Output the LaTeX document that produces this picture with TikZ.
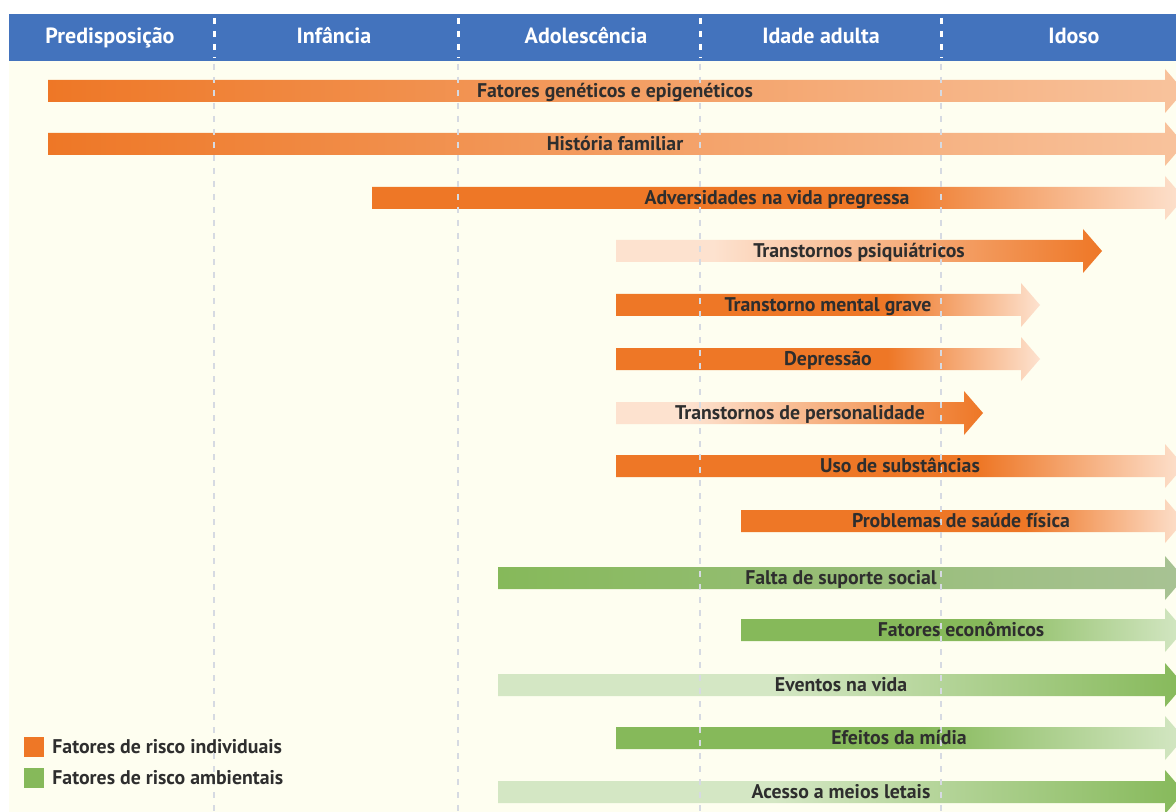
\documentclass[tikz,border=0pt]{standalone}
\usepackage{fontspec}
\setmainfont{PT Sans}
\definecolor{headblue}{HTML}{4373BD}
\definecolor{cream}{HTML}{FEFEF0}
\definecolor{gridgray}{HTML}{D6DAE2}
\definecolor{labelgray}{HTML}{2E2E2E}
\definecolor{oDark}{HTML}{EE7726}
\definecolor{oLight}{HTML}{F8C39D}
\definecolor{oPale}{HTML}{FDE2CF}
\definecolor{gDark}{HTML}{86B95A}
\definecolor{gLight}{HTML}{D4E7C4}
\definecolor{gGrey}{HTML}{A8C294}

\pgfdeclarehorizontalshading{holdorangeshade}{100bp}{color(0bp)=(oDark); color(25bp)=(oDark); color(57bp)=(oDark); color(75bp)=(oPale); color(100bp)=(oPale)}
\pgfdeclarehorizontalshading{holdgreenshade}{100bp}{color(0bp)=(gDark); color(25bp)=(gDark); color(52bp)=(gDark); color(75bp)=(gLight); color(100bp)=(gLight)}
\pgfdeclarehorizontalshading{risegreenshade}{100bp}{color(0bp)=(gLight); color(25bp)=(gLight); color(45bp)=(gLight); color(75bp)=(gDark); color(100bp)=(gDark)}
\pgfdeclarehorizontalshading{riseorangeshade}{100bp}{color(0bp)=(oPale); color(25bp)=(oPale); color(35bp)=(oPale); color(75bp)=(oDark); color(100bp)=(oDark)}

\tikzset{
  barlabel/.style={font=\bfseries\fontsize{9.9}{11}\selectfont, text=labelgray, inner sep=0pt, text height=1.6ex, text depth=0.3ex},
  stagelabel/.style={font=\bfseries\fontsize{11}{13}\selectfont, text=white, inner sep=0pt, text height=1.6ex, text depth=0.3ex},
  legendbox/.style={minimum size=10pt, inner sep=0pt, draw=none},
  legendtext/.style={font=\bfseries\fontsize{9.9}{11}\selectfont, text=labelgray, inner sep=0pt, anchor=west, text height=1.6ex, text depth=0.3ex},
  headdash/.style={white, line width=1.5pt, dash pattern=on 3pt off 3.5pt},
  griddash/.style={gridgray, line width=1pt, dash pattern=on 3pt off 3.5pt},
  fadeorange/.style={left color=oDark, right color=oLight},
  holdorange/.style={shading=holdorangeshade},
  riseorange/.style={shading=riseorangeshade},
  greygreen/.style={left color=gDark, right color=gGrey},
  holdgreen/.style={shading=holdgreenshade},
  risegreen/.style={shading=risegreenshade}
}

% #1 style, #2 y, #3 x start, #4 x tip
\newcommand{\riskbar}[4]{%
  \shade[#1] (#3,#2-11) -- (#4-19,#2-11) -- (#4-19,#2-22) -- (#4,#2)
    -- (#4-19,#2+22) -- (#4-19,#2+11) -- (#3,#2+11) -- cycle;}

\begin{document}
\begin{tikzpicture}[x=0.5pt, y=-0.5pt]
\clip (0,0) rectangle (1176,812);
\fill[white] (0,0) rectangle (1176,812);
\fill[cream] (9,61) rectangle (1176,812);
\fill[headblue] (9,14) rectangle (1176,61);

% stages
\node[stagelabel] (predisp) at (110,37) {Predisposição};
\node[stagelabel] (infancia) at (334,37) {Infância};
\node[stagelabel] (adolesc) at (586,37) {Adolescência};
\node[stagelabel] (adulta) at (821,37) {Idade adulta};
\node[stagelabel] (idoso) at (1074,37) {Idoso};

% individual factors
\riskbar{fadeorange}{91}{48}{1184}
\riskbar{fadeorange}{144}{48}{1184}
\riskbar{holdorange}{198}{372}{1184}
\riskbar{riseorange}{251}{616}{1102}
\riskbar{holdorange}{305}{616}{1040}
\riskbar{holdorange}{359}{616}{1040}
\riskbar{riseorange}{413}{616}{983}
\riskbar{holdorange}{466}{616}{1184}
\riskbar{holdorange}{521}{741}{1184}

% environmental factors
\riskbar{greygreen}{578}{498}{1184}
\riskbar{holdgreen}{630}{741}{1184}
\riskbar{risegreen}{685}{498}{1184}
\riskbar{holdgreen}{738}{616}{1184}
\riskbar{risegreen}{792}{498}{1184}

% separators
\draw[headdash] (214,18) -- (214,58);
\draw[headdash] (458,18) -- (458,58);
\draw[headdash] (700,18) -- (700,58);
\draw[headdash] (941,18) -- (941,58);
\draw[griddash] (214,64) -- (214,812);
\draw[griddash] (458,64) -- (458,812);
\draw[griddash] (700,64) -- (700,812);
\draw[griddash] (941,64) -- (941,812);

\node[barlabel] (genet) at (615,91) {Fatores genéticos e epigenéticos};
\node[barlabel] (familia) at (615,144) {História familiar};
\node[barlabel] (advers) at (777,198) {Adversidades na vida pregressa};
\node[barlabel] (psiq) at (859,251) {Transtornos psiquiátricos};
\node[barlabel] (grave) at (828,305) {Transtorno mental grave};
\node[barlabel] (depr) at (828,359) {Depressão};
\node[barlabel] (person) at (800,413) {Transtornos de personalidade};
\node[barlabel] (subst) at (900,466) {Uso de substâncias};
\node[barlabel] (saude) at (961,521) {Problemas de saúde física};
\node[barlabel] (suporte) at (841,578) {Falta de suporte social};
\node[barlabel] (econ) at (961,630) {Fatores econômicos};
\node[barlabel] (eventos) at (841,685) {Eventos na vida};
\node[barlabel] (midia) at (899,738) {Efeitos da mídia};
\node[barlabel] (letais) at (841,792) {Acesso a meios letais};

% legend
\node[legendbox, fill=oDark] (legind) at (34,747) {};
\node[legendbox, fill=gDark] (legamb) at (34,778) {};
\node[legendtext] (legindtxt) at (52,747) {Fatores de risco individuais};
\node[legendtext] (legambtxt) at (52,778) {Fatores de risco ambientais};
\end{tikzpicture}
\end{document}
